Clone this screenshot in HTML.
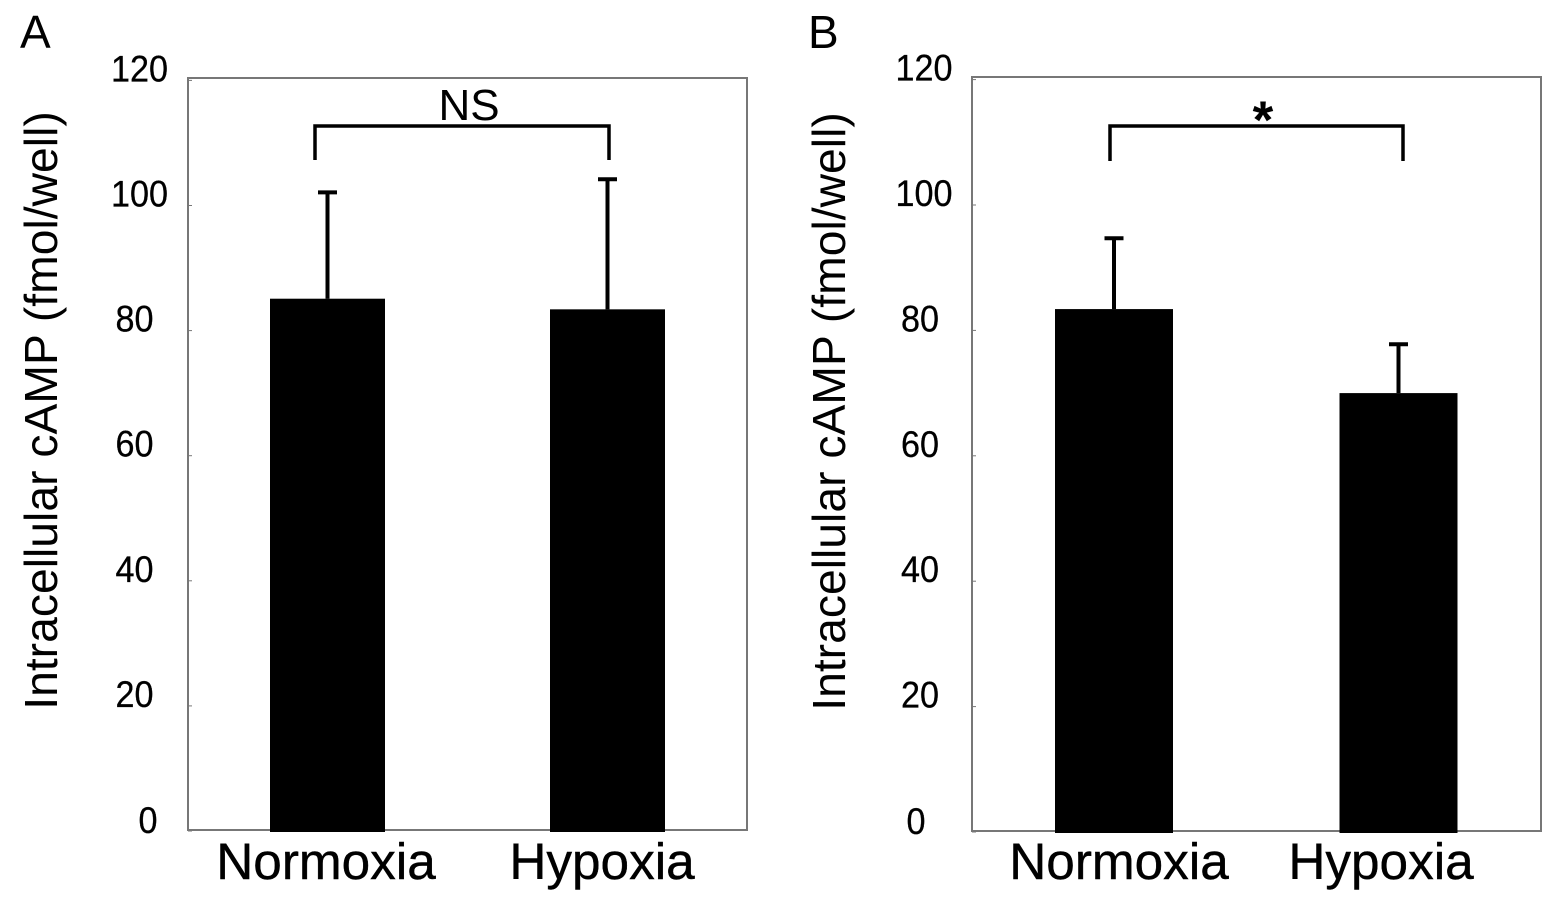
<!DOCTYPE html>
<html>
<head>
<meta charset="utf-8">
<title>Intracellular cAMP under normoxia and hypoxia</title>
<style>
html,body{margin:0;padding:0;background:#fff;width:1559px;height:904px;overflow:hidden}
svg{display:block;font-family:"Liberation Sans",Arial,sans-serif}
</style>
</head>
<body>
<svg id="chart" width="1559" height="904" viewBox="0 0 1559 904" xmlns="http://www.w3.org/2000/svg"></svg>
<script>
const categories = ['Normoxia', 'Hypoxia'];
const tickValues = [0, 20, 40, 60, 80, 100, 120];
const yAxisTitle = 'Intracellular cAMP (fmol/well)';
const meansA = [85.1, 83.4];
const errorsA = [17.0, 20.8];
const meansB = [83.4, 70.0];
const errorsB = [11.3, 7.8];

const svg = document.getElementById('chart');
const NS = 'http://www.w3.org/2000/svg';

function make(tag, attrs, text) {
  const el = document.createElementNS(NS, tag);
  for (const k in attrs) el.setAttribute(k, attrs[k]);
  if (text !== undefined) el.textContent = text;
  svg.appendChild(el);
  return el;
}

function drawPanel(cfg, means, errors) {
  const y = v => cfg.y0 - v * cfg.unit;
  const x = i => cfg.barCenters[i];

  const panelLabel = make('text', {x: cfg.letterX, y: 48, 'font-size': 46, fill: '#000'}, cfg.letter);
  
  

  const title = make('text', {
    transform: 'translate(' + cfg.titleX + ',' + cfg.titleY + ') rotate(-90)',
    'font-size': 46.3, fill: '#000', 'text-anchor': 'middle'
  }, yAxisTitle);
  
  

  const frame = make('rect', {
    x: cfg.left, y: cfg.top, width: cfg.right - cfg.left, height: cfg.bottom - cfg.top,
    fill: 'none', stroke: '#777', 'stroke-width': 2
  });
  
  

  tickValues.forEach(v => {
    const tick = make('line', {x1: cfg.left, x2: cfg.left + 4, y1: y(v), y2: y(v), stroke: '#777', 'stroke-width': 1});
    
    

    const text = String(v);
    const digits = text.length;
    const label = make('text', {
      x: cfg.labelCenter[digits], y: y(v) + (v === 0 ? 2 : 1), 'font-size': 37,
      'text-anchor': 'middle', fill: '#000', stroke: '#000', 'stroke-width': 0.3,
      textLength: digits * 19, lengthAdjust: 'spacingAndGlyphs'
    }, text);
    
    
  });

  means.forEach((m, i) => {
    const bar = make('rect', {
      x: x(i) - cfg.barWidth / 2, y: y(m), width: cfg.barWidth, height: y(0) - y(m) + 1, fill: '#000'
    });
    
    

    const top = y(m + errors[i]);
    const stem = make('line', {x1: x(i), x2: x(i), y1: y(m), y2: top, stroke: '#000', 'stroke-width': 4});
    
    

    const cap = make('line', {x1: x(i) - 9.5, x2: x(i) + 9.5, y1: top, y2: top, stroke: '#000', 'stroke-width': 4});
    
    

    const cat = make('text', {
      x: cfg.catCenters[i], y: 879, 'font-size': 51.3, 'text-anchor': 'middle',
      fill: '#000', stroke: '#000', 'stroke-width': 0.4
    }, categories[i]);
    
    
  });

  const b = cfg.bracket;
  const bracket = make('polyline', {
    points: b.x1 + ',' + b.low + ' ' + b.x1 + ',126 ' + b.x2 + ',126 ' + b.x2 + ',' + b.low,
    fill: 'none', stroke: '#000', 'stroke-width': 3.5
  });
  
  

  const sig = make('text', {
    x: cfg.sig.x, y: cfg.sig.y, 'font-size': cfg.sig.size, 'font-weight': cfg.sig.weight,
    'text-anchor': 'middle', fill: '#000'
  }, cfg.sig.text);
  
  
}

drawPanel({
  letter: 'A', letterX: 20, titleX: 57, titleY: 410.5,
  left: 188, right: 747, top: 78, bottom: 830, y0: 831, unit: 6.255,
  labelCenter: {1: 148, 2: 134.5, 3: 139.5},
  barCenters: [327.5, 607.5], barWidth: 115, catCenters: [326, 602],
  bracket: {x1: 315, x2: 609, low: 160},
  sig: {text: 'NS', x: 469, y: 120, size: 44, weight: 'normal'}
}, meansA, errorsA);

drawPanel({
  letter: 'B', letterX: 808, titleX: 845, titleY: 411.5,
  left: 972, right: 1541, top: 77, bottom: 831, y0: 832, unit: 6.27,
  labelCenter: {1: 916, 2: 920, 3: 924},
  barCenters: [1114, 1398.5], barWidth: 118, catCenters: [1119, 1381],
  bracket: {x1: 1110, x2: 1403, low: 161},
  sig: {text: '*', x: 1263, y: 138, size: 53, weight: 'bold'}
}, meansB, errorsB);
</script>
</body>
</html>
